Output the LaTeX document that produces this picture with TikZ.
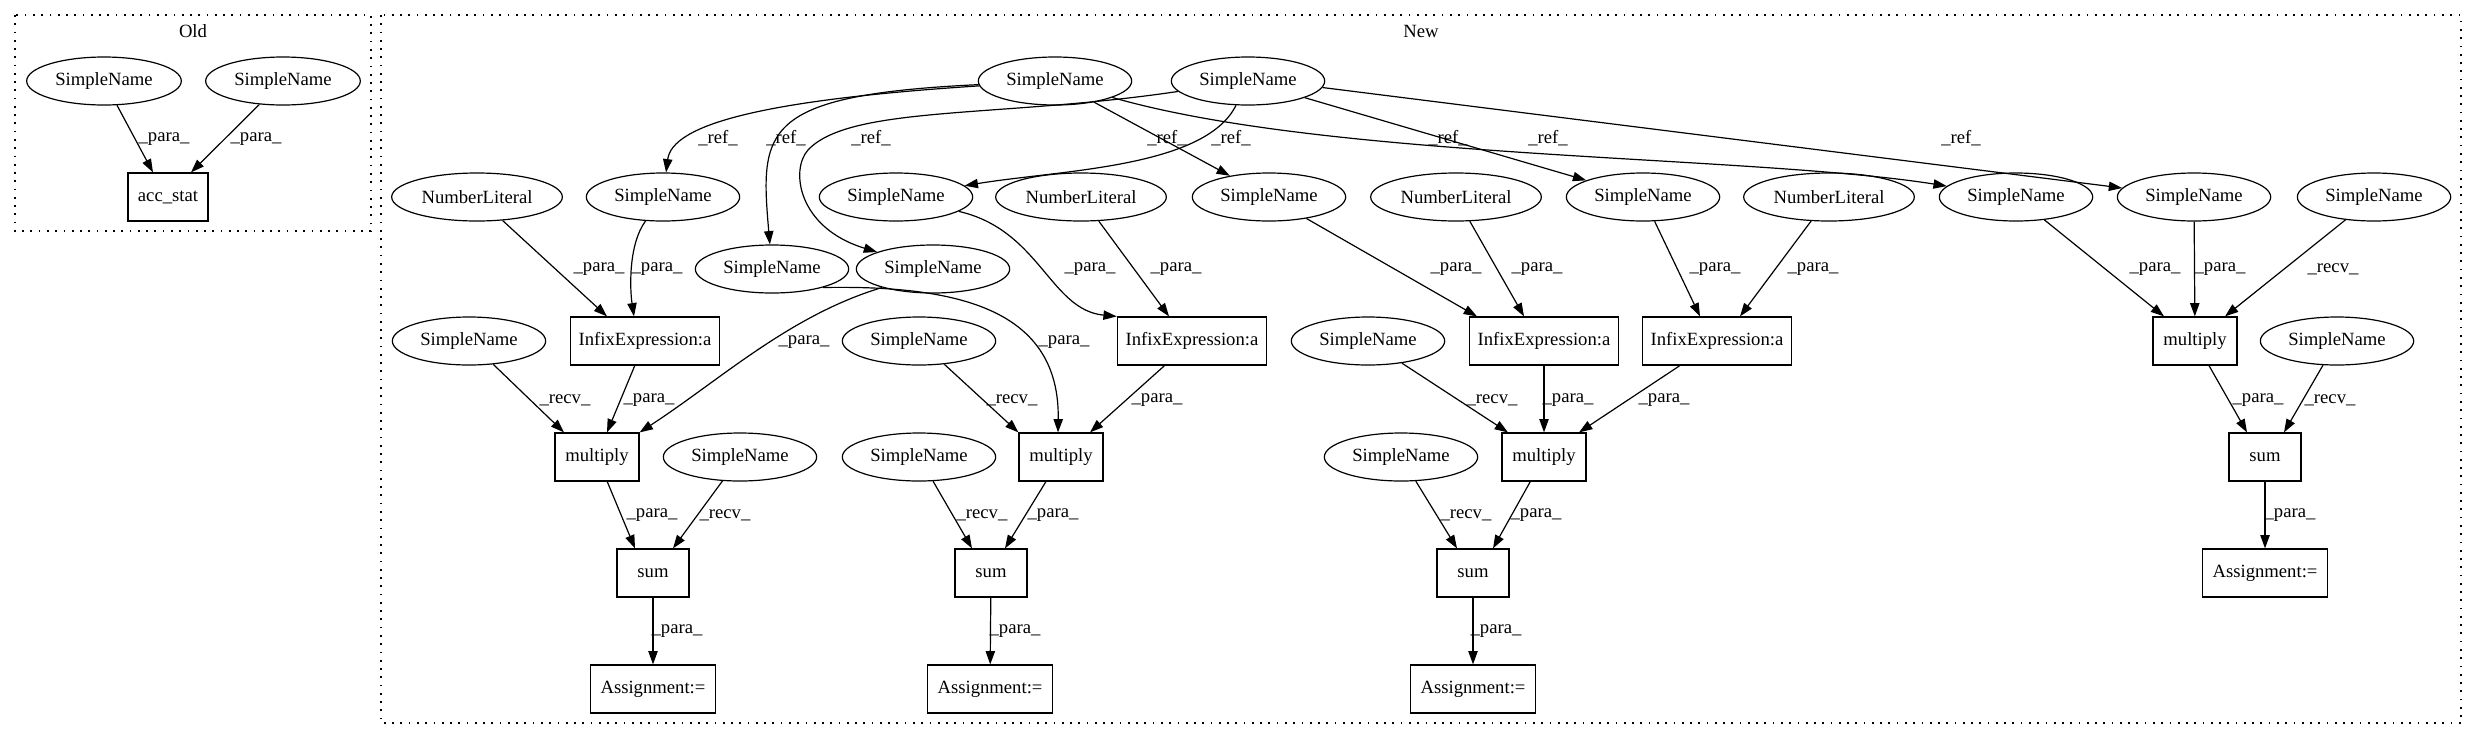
\documentclass[tikz,border=0pt]{standalone}
\usepackage{fontspec}
\setmainfont{Liberation Serif}
\usetikzlibrary{shapes.geometric,arrows.meta,calc}
\begin{document}
\begin{tikzpicture}[x=0.75pt,y=-0.75pt,
  every node/.style={font=\fontsize{14pt}{16pt}\selectfont},
  el/.style={draw,ellipse,line width=0.9pt,minimum width=115pt,minimum height=36pt,inner sep=0pt},
  nlit/.style={el,minimum width=128pt},
  bx/.style={draw,rectangle,line width=0.9pt,minimum height=36pt,inner sep=0pt},
  infx/.style={bx,minimum width=112pt},
  mulb/.style={bx,minimum width=63pt},
  sumb/.style={bx,minimum width=54pt},
  asgb/.style={bx,minimum width=94pt},
  lbl/.style={inner sep=0pt,anchor=center},
  edge/.style={draw,line width=0.9pt,-{Triangle[length=10pt,width=7pt]}},
  cluster/.style={draw,line width=1pt,dash pattern=on 1.3pt off 4.9pt}]
\useasboundingbox (0,0) rectangle (2477,740);
% clusters
\draw[cluster] (15,15) rectangle (371,231);
\draw[cluster] (381,15) rectangle (2461,723);
\node[lbl] (oldlbl) at (193,31) {Old};
\node[lbl] (newlbl) at (1421,31) {New};
% Old nodes
\node[el,minimum width=116pt] (o1) at (104,81) {SimpleName};
\node[el,minimum width=116pt] (o2) at (283,81) {SimpleName};
\node[bx,minimum width=60pt] (acc) at (168,197) {acc\_stat};
% New row 0
\node[el] (tA) at (1055,81) {SimpleName};
\node[el] (tB) at (1248,81) {SimpleName};
% row 1
\node[nlit] (nl1) at (477,197) {NumberLiteral};
\node[el] (s1) at (663,197) {SimpleName};
\node[el] (s3) at (896,197) {SimpleName};
\node[nlit] (nl2) at (1081,197) {NumberLiteral};
\node[el] (s4) at (1269,197) {SimpleName};
\node[nlit] (nl3) at (1456,197) {NumberLiteral};
\node[el] (s5) at (1643,197) {SimpleName};
\node[nlit] (nl4) at (1829,197) {NumberLiteral};
\node[el] (s6) at (2016,197) {SimpleName};
\node[el] (s7) at (2194,197) {SimpleName};
\node[el] (s8) at (2374,197) {SimpleName};
% row 2
\node[el] (s2a) at (772,269) {SimpleName};
\node[el] (s2b) at (933,269) {SimpleName};
% row 3
\node[el] (r1) at (469,341) {SimpleName};
\node[infx] (inf1) at (645,341) {InfixExpression:a};
\node[el] (r2) at (919,341) {SimpleName};
\node[infx] (inf2) at (1192,341) {InfixExpression:a};
\node[el] (r3) at (1368,341) {SimpleName};
\node[infx] (inf3) at (1544,341) {InfixExpression:a};
\node[infx] (inf4) at (1717,341) {InfixExpression:a};
\node[mulb] (mul4) at (2195,341) {multiply};
\node[el] (r4) at (2337,341) {SimpleName};
% row 4
\node[mulb] (mul1) at (597,457) {multiply};
\node[el] (q1) at (740,457) {SimpleName};
\node[el] (q2) at (919,457) {SimpleName};
\node[mulb] (mul2) at (1061,457) {multiply};
\node[el] (q3) at (1401,457) {SimpleName};
\node[mulb] (mul3) at (1544,457) {multiply};
\node[sumb] (sum4) at (2265,457) {sum};
% row 5
\node[sumb] (sum1) at (653,573) {sum};
\node[sumb] (sum2) at (991,573) {sum};
\node[sumb] (sum3) at (1473,573) {sum};
\node[asgb] (asg4) at (2265,573) {Assignment:=};
% row 6
\node[asgb] (asg1) at (653,689) {Assignment:=};
\node[asgb] (asg2) at (990,689) {Assignment:=};
\node[asgb] (asg3) at (1473,689) {Assignment:=};
% Old edges
\draw[edge] (o1) -- ($(acc.north)+(-15,0)$) node[lbl] at (164,139) {\_para\_};
\draw[edge] (o2) -- ($(acc.north)+(23,0)$) node[lbl] at (256,139) {\_para\_};
% ref edges
\draw[edge] (tA) .. controls (760,100) and (672,125) .. (s1) node[lbl] at (718,138) {\_ref\_};
\draw[edge] (tA) .. controls (760,95) and (760,130) .. (s2a) node[lbl] at (786,138) {\_ref\_};
\draw[edge] (tB) .. controls (1000,118) and (850,105) .. (808,150) .. controls (790,170) and (798,228) .. (s2b) node[lbl] at (871,138) {\_ref\_};
\draw[edge] (tA) -- (s4) node[lbl] at (1167,138) {\_ref\_};
\draw[edge] (tB) .. controls (1205,168) and (1060,170) .. (s3) node[lbl] at (1231,138) {\_ref\_};
\draw[edge] (tA) .. controls (1330,160) and (1750,155) .. (s6) node[lbl] at (1448,138) {\_ref\_};
\draw[edge] (tB) -- (s5) node[lbl] at (1548,138) {\_ref\_};
\draw[edge] (tB.-5) -- (s7) node[lbl] at (1961,138) {\_ref\_};
% row1 -> row3
\draw[edge] (nl1) -- ($(inf1.north)+(-38,0)$) node[lbl] at (599,269) {\_para\_};
\draw[edge] (s1) .. controls (628,245) and (630,290) .. ($(inf1.north)+(-11,0)$) node[lbl] at (657,269) {\_para\_};
\draw[edge] (s3) .. controls (1040,230) and (1050,310) .. (inf2.north west) node[lbl] at (1090,269) {\_para\_};
\draw[edge] (nl2) -- ($(inf2.north)+(-23,0)$) node[lbl] at (1176,269) {\_para\_};
\draw[edge] (s4) -- ($(inf3.north)+(-67,0)$) node[lbl] at (1456,269) {\_para\_};
\draw[edge] (nl3) -- ($(inf3.north)+(-20,0)$) node[lbl] at (1537,269) {\_para\_};
\draw[edge] (s5) -- ($(inf4.north)+(-17,0)$) node[lbl] at (1715,269) {\_para\_};
\draw[edge] (nl4) -- ($(inf4.north)+(23,0)$) node[lbl] at (1813,269) {\_para\_};
\draw[edge] (s6) -- ($(mul4.north)+(-31,0)$) node[lbl] at (2155,269) {\_para\_};
\draw[edge] (s7) -- (mul4) node[lbl] at (2220,269) {\_para\_};
\draw[edge] (s8) -- ($(mul4.north)+(30,0)$) node[lbl] at (2333,269) {\_recv\_};
% row2 -> row4
\draw[edge] (s2b.200) .. controls (790,315) and (720,380) .. (mul1.north east) node[lbl] at (804,342) {\_para\_};
\draw[edge] (s2a.-20) .. controls (960,285) and (1060,310) .. ($(mul2.north)+(-3,0)$) node[lbl] at (1064,342) {\_para\_};
% row3 -> row4
\draw[edge] (r1) -- ($(mul1.north)+(-33,0)$) node[lbl] at (565,400) {\_recv\_};
\draw[edge] (inf1) -- ($(mul1.north)+(10,0)$) node[lbl] at (649,400) {\_para\_};
\draw[edge] (r2) -- (mul2.north west) node[lbl] at (1012,400) {\_recv\_};
\draw[edge] (inf2) -- ($(mul2.north)+(29,0)$) node[lbl] at (1157,400) {\_para\_};
\draw[edge] (r3) -- ($(mul3.north)+(-36,0)$) node[lbl] at (1492,400) {\_recv\_};
\draw[edge] (inf3) -- (mul3) node[lbl] at (1568,400) {\_para\_};
\draw[edge] (inf4) -- ($(mul3.north)+(35,0)$) node[lbl] at (1664,400) {\_para\_};
\draw[edge] (mul4) -- ($(sum4.north)+(-18,0)$) node[lbl] at (2258,400) {\_para\_};
\draw[edge] (r4) -- ($(sum4.north)+(19,0)$) node[lbl] at (2330,400) {\_recv\_};
% row4 -> row5
\draw[edge] (mul1) -- ($(sum1.north)+(-18,0)$) node[lbl] at (652,515) {\_para\_};
\draw[edge] (q1) -- ($(sum1.north)+(20,0)$) node[lbl] at (725,515) {\_recv\_};
\draw[edge] (q2) -- ($(sum2.north)+(-19,0)$) node[lbl] at (982,515) {\_recv\_};
\draw[edge] (mul2) -- ($(sum2.north)+(14,0)$) node[lbl] at (1053,515) {\_para\_};
\draw[edge] (q3) -- ($(sum3.north)+(-16,0)$) node[lbl] at (1466,515) {\_recv\_};
\draw[edge] (mul3) -- ($(sum3.north)+(20,0)$) node[lbl] at (1536,515) {\_para\_};
\draw[edge] (sum4) -- (asg4) node[lbl] at (2290,515) {\_para\_};
% row5 -> row6
\draw[edge] (sum1) -- (asg1) node[lbl] at (677,631) {\_para\_};
\draw[edge] (sum2) -- (asg2) node[lbl] at (1015,631) {\_para\_};
\draw[edge] (sum3) -- (asg3) node[lbl] at (1496,631) {\_para\_};
\end{tikzpicture}
\end{document}
